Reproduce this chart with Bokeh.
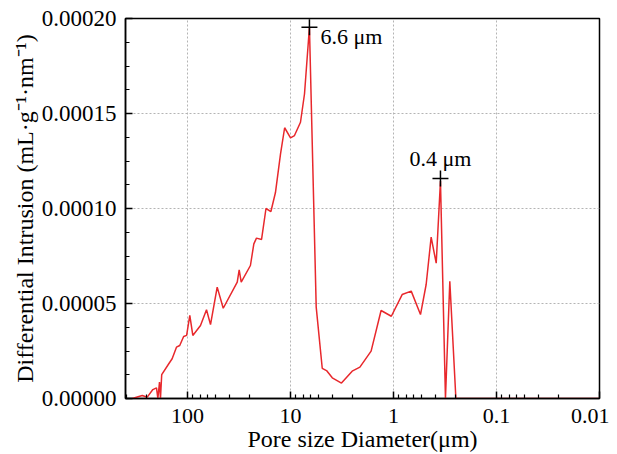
from bokeh.plotting import figure
from bokeh.models import Range1d, FixedTicker, PrintfTickFormatter, Label, ColumnDataSource
from bokeh.embed import file_html
from bokeh.resources import INLINE

# Pore diameter (um) and differential intrusion (mL/g/nm)
diameter = [344, 275, 246, 217, 200, 194, 187, 183, 178, 152, 141, 128, 119, 109, 102,
            95, 88.8, 74.8, 65.4, 59.8, 51.5, 45.0, 32.9, 31.5, 30.1, 24.5, 22.7, 21.4,
            19.1, 17.3, 15.5, 14.0, 12.5, 11.4, 10.0, 9.15, 8.0, 7.31, 6.55, 5.63, 4.92,
            4.47, 3.93, 3.2, 2.52, 2.12, 1.65, 1.32, 1.05, 0.824, 0.673, 0.547, 0.482,
            0.431, 0.385, 0.350, 0.313, 0.284, 0.248, 0.01]
intrusion_e6 = [0, 1.6, 0.7, 4.7, 5.6, 0, 8.6, 0, 12.6, 18.3, 20.9, 27.0, 27.9, 32.6, 33.2,
                43.7, 33.2, 38.4, 46.7, 38.9, 58.6, 47.5, 61.2, 67.7, 61.2, 70.0, 81.4, 84.4,
                83.7, 100.0, 98.4, 108.4, 128.8, 142.5, 137.2, 138.4, 145.4, 160.4, 195.4, 48.1, 15.9,
                14.7, 10.9, 8.1, 14.4, 16.5, 24.9, 46.3, 43.3, 54.7, 56.5, 44.2, 60.0,
                84.9, 71.2, 114.5, 0, 61.7, 0, 0]
intrusion = [v * 1e-6 for v in intrusion_e6]

peak_x = [6.55, 0.35]
peak_y = [0.0001954, 0.0001158]
peak_labels = ["6.6 μm", "0.4 μm"]

x_major = [100, 10, 1, 0.1, 0.01]
x_minor = [m * f for m in [1000, 100, 10, 1, 0.1] for f in [0.887, 0.753, 0.635, 0.535, 0.391, 0.25]]
y_major = [0, 0.00005, 0.0001, 0.00015, 0.0002]
y_minor = [i * 0.0000125 for i in range(17)]

FONT = "Liberation Serif"

p = figure(width=609, height=454, x_axis_type="log",
           x_range=Range1d(400, 0.01), y_range=Range1d(0, 0.0002),
           output_backend="svg", toolbar_location=None,
           min_border_left=125, min_border_right=10, min_border_top=18, min_border_bottom=56)

p.background_fill_color = "white"
p.border_fill_color = "white"
p.outline_line_color = "black"
p.outline_line_width = 1.5
p.outline_line_alpha = 1.0

src = ColumnDataSource(data=dict(x=diameter, y=intrusion))
p.line("x", "y", source=src, line_color="#e8282c", line_width=1.5)

p.scatter(peak_x, peak_y, marker="cross", size=16, line_color="black", line_width=1.5)

p.add_layout(Label(x=peak_x[0], y=peak_y[0], x_offset=11, y_offset=-9, text=peak_labels[0],
                   text_baseline="middle", text_align="left",
                   text_font=FONT, text_font_size="22px", text_color="black"))
p.add_layout(Label(x=peak_x[1], y=peak_y[1], x_offset=0, y_offset=20, text=peak_labels[1],
                   text_baseline="middle", text_align="center",
                   text_font=FONT, text_font_size="22px", text_color="black"))

xt = FixedTicker(ticks=x_major, minor_ticks=x_minor)
yt = FixedTicker(ticks=y_major, minor_ticks=y_minor)
p.xaxis.ticker = xt
p.yaxis.ticker = yt
p.xgrid.ticker = FixedTicker(ticks=x_major)
p.ygrid.ticker = FixedTicker(ticks=y_major)
p.xaxis.formatter = PrintfTickFormatter(format="%g")
p.yaxis.formatter = PrintfTickFormatter(format="%.5f")

for g in (p.xgrid, p.ygrid):
    g.grid_line_color = "#b4b4b4"
    g.grid_line_dash = "2 2"
    g.grid_line_width = 1

for ax in (p.xaxis, p.yaxis):
    ax.axis_line_color = "black"
    ax.axis_line_width = 1.5
    ax.major_tick_in = 7
    ax.major_tick_out = 0
    ax.minor_tick_in = 4
    ax.minor_tick_out = 0
    ax.major_tick_line_color = "black"
    ax.major_tick_line_width = 1.5
    ax.minor_tick_line_color = "black"
    ax.minor_tick_line_width = 1.2
    ax.major_label_text_font = FONT
    ax.major_label_text_color = "black"
    ax.axis_label_text_font = FONT
    ax.axis_label_text_font_style = "normal"
    ax.axis_label_text_color = "black"

p.xaxis.major_label_text_font_size = "22px"
p.yaxis.major_label_text_font_size = "23px"
p.xaxis.axis_label_text_font_size = "24px"
p.yaxis.axis_label_text_font_size = "24px"

p.xaxis.axis_label = "Pore size Diameter(μm)"
p.yaxis.axis_label = "Differential Intrusion (mL·g⁻¹·nm⁻¹)"
p.xaxis.major_label_standoff = 10
p.xaxis.axis_label_standoff = 0
p.yaxis.major_label_standoff = 9
p.yaxis.axis_label_standoff = 1

open("out.html", "w").write(file_html(p, INLINE))
